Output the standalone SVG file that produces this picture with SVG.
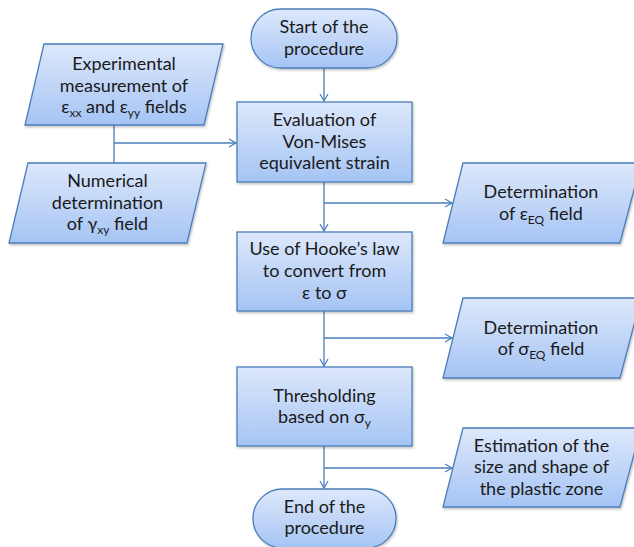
<svg xmlns="http://www.w3.org/2000/svg" width="634" height="547" viewBox="0 0 634 547">
<defs>
<linearGradient id="g" x1="0" y1="0" x2="0" y2="1">
<stop offset="0" stop-color="#dde8fb"/>
<stop offset="1" stop-color="#a5c4f4"/>
</linearGradient>
<filter id="sh" x="-10%" y="-10%" width="120%" height="130%">
<feDropShadow dx="1" dy="1.5" stdDeviation="1" flood-color="#000" flood-opacity="0.25"/>
</filter>
<marker id="ar" markerUnits="userSpaceOnUse" markerWidth="10" markerHeight="10" refX="8" refY="5" orient="auto">
<path d="M1,1 L8,5 L1,9" fill="none" stroke="#4a7ebb" stroke-width="1.2"/>
</marker>
</defs>
<style>
.n{fill:url(#g);stroke:#4a7ebb;stroke-width:1.3;filter:url(#sh)}
.t{font-family:Lato,"Liberation Sans",sans-serif;font-size:18px;fill:#1a1a1a;text-anchor:middle}
.s{font-size:12px}
.c{fill:none;stroke:#4a7ebb;stroke-width:1.3}
</style>
<g id="connectors">
<line class="c" x1="324" y1="68" x2="324" y2="101" marker-end="url(#ar)"/>
<line class="c" x1="114" y1="125" x2="114" y2="163"/>
<line class="c" x1="114" y1="143" x2="236" y2="143" marker-end="url(#ar)"/>
<line class="c" x1="324" y1="182" x2="324" y2="231" marker-end="url(#ar)"/>
<line class="c" x1="324" y1="203" x2="452" y2="203" marker-end="url(#ar)"/>
<line class="c" x1="324" y1="311" x2="324" y2="366" marker-end="url(#ar)"/>
<line class="c" x1="324" y1="338" x2="452" y2="338" marker-end="url(#ar)"/>
<line class="c" x1="324" y1="446" x2="324" y2="488" marker-end="url(#ar)"/>
<line class="c" x1="324" y1="468" x2="452" y2="468" marker-end="url(#ar)"/>
</g>
<g id="start">
<rect class="n" x="251" y="9" width="146" height="59" rx="29.5"/>
<text class="t" x="324" y="33">Start of the</text>
<text class="t" x="324" y="55">procedure</text>
</g>
<g id="experimental">
<polygon class="n" points="44,44 223,44 204,125 25,125"/>
<text class="t" x="124" y="70">Experimental</text>
<text class="t" x="124" y="92">measurement of</text>
<text class="t" x="124" y="113">ε<tspan class="s" dy="4">xx</tspan><tspan dy="-4"> and ε</tspan><tspan class="s" dy="4">yy</tspan><tspan dy="-4"> fields</tspan></text>
</g>
<g id="numerical">
<polygon class="n" points="28,163 206,163 187,243 9,243"/>
<text class="t" x="107.5" y="187">Numerical</text>
<text class="t" x="107.5" y="209">determination</text>
<text class="t" x="107.5" y="230">of γ<tspan class="s" dy="4">xy</tspan><tspan dy="-4"> field</tspan></text>
</g>
<g id="evaluation">
<rect class="n" x="237" y="102" width="175" height="80"/>
<text class="t" x="324.5" y="126">Evaluation of</text>
<text class="t" x="324.5" y="148">Von-Mises</text>
<text class="t" x="324.5" y="169">equivalent strain</text>
</g>
<g id="det-eps">
<polygon class="n" points="463,163 641,163 620,243 443,243"/>
<text class="t" x="541" y="198">Determination</text>
<text class="t" x="541" y="220">of ε<tspan class="s" dy="4">EQ</tspan><tspan dy="-4"> field</tspan></text>
</g>
<g id="hooke">
<rect class="n" x="237" y="232" width="175" height="79"/>
<text class="t" x="324.5" y="255">Use of Hooke’s law</text>
<text class="t" x="324.5" y="277">to convert from</text>
<text class="t" x="324.5" y="299">ε to σ</text>
</g>
<g id="det-sig">
<polygon class="n" points="463,298 641,298 620,378 443,378"/>
<text class="t" x="541" y="334">Determination</text>
<text class="t" x="541" y="355">of σ<tspan class="s" dy="4">EQ</tspan><tspan dy="-4"> field</tspan></text>
</g>
<g id="thresholding">
<rect class="n" x="237" y="367" width="175" height="79"/>
<text class="t" x="324.5" y="402">Thresholding</text>
<text class="t" x="324.5" y="423">based on σ<tspan class="s" dy="4">y</tspan></text>
</g>
<g id="estimation">
<polygon class="n" points="463,428 641,428 620,507 443,507"/>
<text class="t" x="541.5" y="452">Estimation of the</text>
<text class="t" x="541.5" y="473">size and shape of</text>
<text class="t" x="541.5" y="495">the plastic zone</text>
</g>
<g id="end">
<rect class="n" x="253" y="489" width="143" height="59" rx="29.5"/>
<text class="t" x="324.5" y="513">End of the</text>
<text class="t" x="324.5" y="534">procedure</text>
</g>
</svg>
